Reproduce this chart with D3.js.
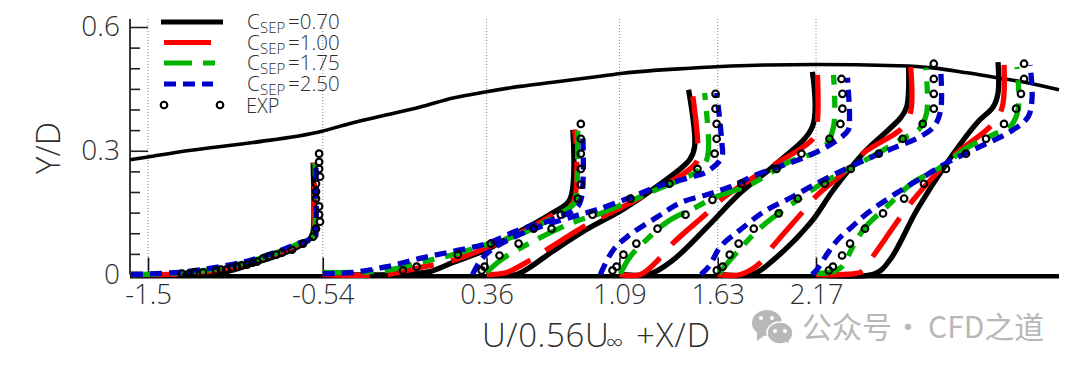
<!DOCTYPE html>
<html>
<head>
<meta charset="utf-8">
<script src="https://cdn.jsdelivr.net/npm/d3@7"></script>
<style>
  html, body { margin: 0; padding: 0; background: #fff; }
  text { font-family: "Open Sans", sans-serif; font-weight: 300; fill: #2e2e2e; }
</style>
</head>
<body>
<div id="plot"></div>
<script>
// x stations, profiles below are [U, Y/D] with U relative to their station
const stations = [-1.5, -0.54, 0.36, 1.09, 1.63, 2.17];
const stationLabels = ["-1.5", "-0.54", "0.36", "1.09", "1.63", "2.17"];

const c070 = [
  [[-.093,0],[.286,0],[.434,.007],[.577,.027],[.725,.048],[.835,.070],[.896,.090],[.907,.104],[.907,.271]],
  [[0,0],[.407,0],[.588,.007],[.714,.029],[.901,.060],[.984,.080],[1.082,.104],[1.264,.150],[1.357,.181],[1.374,.351]],
  [[0,0],[.165,0],[.236,.017],[.363,.056],[.549,.109],[.747,.157],[.934,.213],[1.115,.278],[1.143,.310],[1.110,.448]],
  [[0,0],[.170,.002],[.297,.036],[.484,.116],[.665,.198],[.868,.271],[1.060,.358],[1.060,.491]],
  [[0,0],[.198,.002],[.308,.036],[.511,.126],[.637,.206],[.802,.295],[1.005,.380],[1.038,.406],[1.049,.503]],
  [[0,0],[.324,.002],[.407,.036],[.555,.157],[.720,.271],[.885,.368],[.973,.406],[1.000,.440],[1.000,.515]]
];
const c100 = [
  [[-.093,0],[.214,.002],[.434,.015],[.577,.029],[.725,.053],[.835,.075],[.907,.094],[.912,.109],[.912,.271]],
  [[0,0],[.352,0],[.533,.017],[.714,.034],[.901,.065],[1.154,.116],[1.264,.145],[1.374,.174],[1.385,.351]],
  [[0,0],[.110,.005],[.236,.034],[.330,.060],[.544,.119],[.637,.140],[.857,.189],[1.154,.273],[1.159,.327],[1.132,.436]],
  [[0,0],[.115,0],[.225,.041],[.297,.077],[.489,.152],[.571,.186],[.736,.235],[.868,.271],[1.066,.331],[1.088,.375],[1.088,.484]],
  [[0,0],[.126,0],[.236,.029],[.302,.068],[.467,.152],[.538,.189],[.692,.247],[.802,.295],[1.016,.356],[1.060,.394],[1.060,.503]],
  [[0,0],[.148,0],[.253,.007],[.313,.044],[.462,.138],[.527,.177],[.681,.254],[.775,.295],[.967,.363],[1.022,.404],[1.033,.508]]
];
const c175 = [
  [[-.093,0],[.214,.005],[.434,.019],[.577,.034],[.725,.056],[.835,.077],[.912,.097],[.918,.114],[.918,.269]],
  [[0,.005],[.165,.005],[.352,.010],[.533,.029],[.714,.048],[.901,.073],[1.082,.097],[1.264,.138],[1.385,.174],[1.396,.206],[1.401,.351]],
  [[0,.005],[.082,.036],[.275,.085],[.473,.126],[.637,.150],[.769,.174],[.934,.206],[1.154,.249],[1.209,.278],[1.220,.315],[1.198,.440]],
  [[.005,.002],[.060,.044],[.132,.077],[.264,.128],[.429,.165],[.516,.186],[.720,.218],[.923,.271],[1.121,.307],[1.176,.358],[1.176,.484]],
  [[.005,.002],[.110,.056],[.236,.114],[.440,.181],[.582,.223],[.731,.259],[.896,.298],[1.005,.327],[1.104,.351],[1.148,.392],[1.143,.501]],
  [[.005,.002],[.093,.007],[.143,.019],[.203,.068],[.269,.114],[.390,.165],[.533,.223],[.681,.259],[.830,.307],[.973,.339],[1.066,.358],[1.110,.399],[1.104,.503]]
];
const c250 = [
  [[-.093,0],[.214,.007],[.434,.022],[.577,.036],[.725,.058],[.835,.077],[.918,.090],[.923,.109],[.923,.266]],
  [[0,.002],[.165,.005],[.352,.019],[.533,.039],[.714,.056],[.901,.075],[1.082,.109],[1.264,.133],[1.396,.162],[1.423,.189],[1.429,.344]],
  [[-.077,0],[-.038,.031],[.027,.060],[.220,.104],[.473,.140],[.604,.157],[.786,.186],[.950,.215],[1.115,.235],[1.209,.249],[1.291,.283],[1.291,.327],[1.264,.440]],
  [[-.104,0],[-.093,.012],[-.033,.060],[.044,.092],[.209,.140],[.335,.174],[.484,.194],[.610,.213],[.753,.242],[1.011,.283],[1.159,.315],[1.258,.351],[1.264,.382],[1.253,.477]],
  [[-.093,0],[-.049,.019],[.016,.068],[.126,.109],[.253,.152],[.401,.186],[.511,.213],[.637,.242],[.786,.273],[.967,.307],[1.099,.331],[1.187,.358],[1.225,.399],[1.225,.496]],
  [[-.022,0],[.005,.012],[.066,.053],[.121,.085],[.198,.116],[.286,.150],[.445,.198],[.610,.242],[.720,.271],[.901,.310],[1.066,.346],[1.165,.382],[1.187,.428],[1.176,.508]]
];
const expData = [
  [[.940,.293],[.940,.273],[.940,.256],[.945,.237],[.923,.220],[.923,.201],[.923,.184],[.940,.165],[.940,.145],[.945,.128],[.923,.111],[.907,.092],[.852,.075],[.791,.060],[.736,.053],[.703,.048],[.665,.044],[.632,.039],[.599,.031],[.577,.029],[.544,.024],[.516,.022],[.489,.019],[.462,.017],[.429,.012],[.401,.012],[.374,.010],[.302,.005],[.253,.005],[.225,.002],[.187,.002]],
  [[1.418,.365],[1.418,.329],[1.418,.293],[1.418,.256],[1.418,.218],[1.401,.184],[1.308,.145],[1.159,.111],[.923,.075],[.742,.048],[.516,.019],[.440,.010]],
  [[-.027,.010],[-.011,.019],[.071,.046],[.176,.075],[.357,.111],[.582,.145],[.791,.184],[1.005,.220],[1.159,.256],[1.253,.293],[1.264,.329],[1.264,.365],[1.258,.402],[1.258,.438]],
  [[-.038,.010],[-.016,.019],[.022,.048],[.093,.075],[.209,.111],[.363,.145],[.511,.181],[.670,.220],[.863,.256],[1.000,.293],[1.154,.329],[1.214,.365],[1.225,.402],[1.225,.438],[1.220,.474]],
  [[-.005,.010],[.027,.019],[.066,.048],[.115,.075],[.198,.111],[.335,.148],[.440,.184],[.588,.220],[.731,.256],[.885,.293],[1.016,.329],[1.126,.365],[1.187,.402],[1.187,.438],[1.187,.474],[1.187,.511]],
  [[.071,.010],[.093,.019],[.143,.046],[.187,.075],[.269,.111],[.368,.148],[.484,.184],[.593,.220],[.714,.256],[.824,.293],[.934,.329],[1.033,.365],[1.099,.402],[1.126,.438],[1.143,.474],[1.143,.511]]
];
// upper wall, absolute X/D against Y/D
const wallX = [-1.599,-1.5,-1.286,-.923,-.555,-.374,-.187,-.005,.176,.36,.544,.725,.973,1.11,1.478,1.9,2.17,2.62,2.81,3.0,3.165,3.33,3.505];
const wallY = [.278,.285,.300,.320,.346,.368,.387,.406,.428,.443,.456,.466,.480,.488,.500,.508,.509,.506,.501,.489,.477,.465,.448];

const legendNames = ["0.70", "1.00", "1.75", "2.50"];
const yMajor = [0, 0.3, 0.6];
const yMinor = [0.05, 0.1, 0.15, 0.2, 0.25, 0.35, 0.4, 0.45, 0.5, 0.55];

const styles = [
  { data: c070, color: "#000", dash: null, legend: [161, 223] },
  { data: c100, color: "#f00", dash: "47 18", legend: [164, 211] },
  { data: c175, color: "#00b400", dash: "28 11 12 11", legend: [164, 215] },
  { data: c250, color: "#0000c8", dash: "12 7", legend: [164, 213] }
];

const svg = d3.select("#plot").append("svg")
  .attr("width", 1080)
  .attr("height", 370)
  .style("display", "block");

const x = d3.scaleLinear().domain([-1.599, 3.505]).range([130, 1059]);
const y = d3.scaleLinear().domain([0, 0.6]).range([274.5, 27]);
const topY = 19;

// dotted station lines
svg.append("g").selectAll("line")
  .data(stations)
  .enter().append("line")
    .attr("x1", d => x(d)).attr("x2", d => x(d))
    .attr("y1", topY).attr("y2", y(0))
    .attr("stroke", "#8a8a8a")
    .attr("stroke-width", 1)
    .attr("stroke-dasharray", "1 2");

// y axis, ticks point into the plot
const yAxis = svg.append("g")
  .attr("transform", "translate(130,0)")
  .call(d3.axisLeft(y).tickValues(yMajor).tickSize(-18).tickPadding(10)
    .tickFormat(d => d === 0 ? "0" : d3.format(".1f")(d)));
yAxis.select(".domain").remove();
yAxis.selectAll("line").attr("stroke", "#222").attr("stroke-width", 1.6);
yAxis.selectAll("text").style("font-size", "28px");
yAxis.selectAll(".tick").filter(d => d === 0).select("line").remove();

const yAxisMinor = svg.append("g")
  .attr("transform", "translate(130,0)")
  .call(d3.axisLeft(y).tickValues(yMinor).tickSize(-10).tickFormat(""));
yAxisMinor.select(".domain").remove();
yAxisMinor.selectAll("line").attr("stroke", "#222").attr("stroke-width", 1.6);

svg.append("line")
  .attr("x1", 130).attr("x2", 130)
  .attr("y1", topY).attr("y2", y(0))
  .attr("stroke", "#222").attr("stroke-width", 1.8);

// x axis labels and small ticks
const xAxis = svg.append("g")
  .attr("transform", "translate(0," + y(0) + ")")
  .call(d3.axisBottom(x).tickValues(stations).tickSize(-17)
    .tickFormat((d, i) => stationLabels[i]));
xAxis.select(".domain").remove();
xAxis.selectAll("line").attr("stroke", "#111").attr("stroke-width", 1.6);
xAxis.selectAll("text").style("font-size", "27.5px").attr("y", 29.5).attr("dy", 0);

// floor sits under the profiles
svg.append("line")
  .attr("x1", x.range()[0]).attr("x2", x.range()[1])
  .attr("y1", y(0) + 1.8).attr("y2", y(0) + 1.8)
  .attr("stroke", "#000").attr("stroke-width", 4.6);

// upper wall
svg.append("path")
  .attr("d", d3.line().x(d => x(d[0])).y(d => y(d[1])).curve(d3.curveMonotoneX)(wallX.map((d, i) => [d, wallY[i]])))
  .attr("fill", "none")
  .attr("stroke", "#000")
  .attr("stroke-width", 3.6);

// velocity profiles
const profileLine = (st) => d3.line()
  .x(d => x(stations[st] + d[0]))
  .y(d => y(d[1]))
  .curve(d3.curveCatmullRom.alpha(0.5));

styles.forEach(function(s) {
  s.data.forEach(function(p, i) {
    svg.append("path")
      .attr("d", profileLine(i)(p))
      .attr("fill", "none")
      .attr("stroke", s.color)
      .attr("stroke-width", 5.3)
      .attr("stroke-dasharray", s.dash);
  });
});

// experiment
expData.forEach(function(p, i) {
  svg.append("g").selectAll("circle")
    .data(p)
    .enter().append("circle")
      .attr("cx", d => x(stations[i] + d[0]))
      .attr("cy", d => y(d[1]))
      .attr("r", 3.3)
      .attr("fill", "none")
      .attr("stroke", "#000")
      .attr("stroke-width", 2.1);
});

// legend
const legendY = [22, 42.5, 63, 84];
styles.forEach(function(s, i) {
  svg.append("line")
    .attr("x1", s.legend[0]).attr("x2", s.legend[1])
    .attr("y1", legendY[i]).attr("y2", legendY[i])
    .attr("stroke", s.color)
    .attr("stroke-width", 5)
    .attr("stroke-dasharray", s.dash);
  const t = svg.append("text")
    .attr("x", 247).attr("y", legendY[i] + 7)
    .style("font-size", "20.5px");
  t.append("tspan").text("C");
  t.append("tspan").attr("x", 260).attr("dy", 4).style("font-size", "15px").text("SEP");
  t.append("tspan").attr("x", 288).attr("dy", -4).text("=" + legendNames[i]);
});
svg.append("g").selectAll("circle")
  .data([164, 220])
  .enter().append("circle")
    .attr("cx", d => d).attr("cy", 105)
    .attr("r", 3.3)
    .attr("fill", "none")
    .attr("stroke", "#000")
    .attr("stroke-width", 2.1);
svg.append("text")
  .attr("x", 246).attr("y", 113)
  .style("font-size", "20px")
  .text("EXP");

// axis titles
svg.append("text")
  .attr("transform", "translate(60,148) rotate(-90)")
  .attr("text-anchor", "middle")
  .style("font-size", "33px")
  .text("Y/D");

const xTitle = svg.append("text")
  .attr("x", 482).attr("y", 347)
  .style("font-size", "33px");
xTitle.append("tspan").style("letter-spacing", "0.6px").text("U/0.56U");
xTitle.append("tspan").attr("x", 606).attr("dy", 4).style("font-size", "24px").text("∞");
xTitle.append("tspan").attr("x", 636).attr("dy", -4).style("letter-spacing", "1px").text("+X/D");

// watermark
const mark = svg.append("g").attr("fill", "#b8b8b8");
mark.append("ellipse").attr("cx", 767).attr("cy", 323).attr("rx", 15).attr("ry", 13);
mark.append("path").attr("d", d3.line()([[757, 333], [757, 341], [765, 335]]));
mark.append("ellipse").attr("cx", 780).attr("cy", 333).attr("rx", 13).attr("ry", 11).attr("stroke", "#fff").attr("stroke-width", 1.5);
mark.append("path").attr("d", d3.line()([[785, 341], [789, 343], [788, 337]]));
svg.append("g").attr("fill", "#fff").selectAll("circle")
  .data([[761, 318], [772, 318], [775, 331], [785, 331]])
  .enter().append("circle")
    .attr("cx", d => d[0]).attr("cy", d => d[1]).attr("r", 2);
const wmText = [["公众号", 802], ["·", 893], ["CFD之道", 928]];
svg.append("g").selectAll("text")
  .data(wmText)
  .enter().append("text")
    .attr("x", d => d[1]).attr("y", 338)
    .style("font-family", "'Noto Sans CJK SC', sans-serif")
    .style("font-weight", 400)
    .style("font-size", "30px")
    .style("fill", "#b8b8b8")
    .text(d => d[0]);
</script>
</body>
</html>
